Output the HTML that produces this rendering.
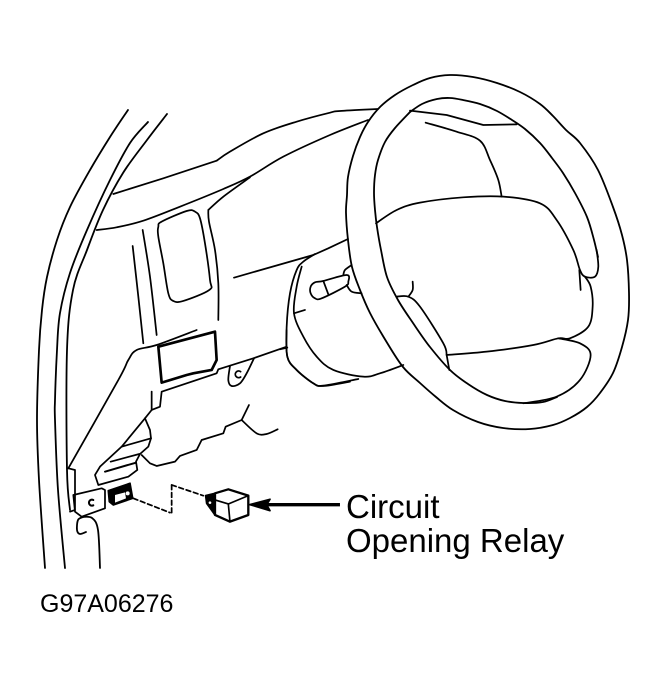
<!DOCTYPE html>
<html><head><meta charset="utf-8"><style>
html,body{margin:0;padding:0;background:#fff;width:667px;height:689px;overflow:hidden}
svg{display:block}
polyline,polygon,path{fill:none;stroke:#000;stroke-linejoin:round;stroke-linecap:round}
text{font-family:"Liberation Sans",sans-serif;fill:#000}
</style></head><body>
<svg width="667" height="689" viewBox="0 0 667 689" xmlns="http://www.w3.org/2000/svg">
<rect width="667" height="689" fill="#fff"/>

<!-- wheel outer + inner, original coordinates -->
<g stroke-width="1.8">
<polygon points="450,75 473,77 497,83 520,92 540,104 553,116 566,130 580,143 598,170 613,207 622,235 627,260 629,293 628,320 622,347 613,373 600,393 587,407 570,418 553,425 530,429 503,428 478,422 453,410 436,397 420,383 403,367 386,341 370,313 360,290 352,267 348,240 346,213 347,195 348,177 353,156 360,137 368,122 380,107 395,95 413,85 430,78"/>
<polyline points="410,112 422,104 437,99 450,98 463,100 480,104 497,111 512,120 525,129 540,143 552,158 563,173 575,193 587,217 594,240 598,257"/>
<polyline points="410,112 395,128 385,142 378,160 375,175 374,193 375,210 377,227 381,250 387,277 398,300 413,323 430,347 450,370 468,384 487,395 505,401 523,403 543,402 557,397"/>
</g>

<!-- left pillar lines -->
<g stroke-width="1.8">
<polyline points="128,110 110,137 90,170 70,207 57,240 47,277 42,310 39,350 37,420 39,480 45,568"/>
<polyline points="148,122 130,143 110,180 87,230 70,273 60,313 57,350 55,400 55,420 58,490 65,568"/>
<polyline points="167,114 147,140 123,173 103,210 87,250 73,290 67,350 67,470 70,510"/>
<polyline points="83,517 78,520 77,530 80,534 86,532"/>
<polyline points="82,517 92,518 98,530 100,568"/>
</g>

<!-- dash panel and cluster: zoom-1 coordinates -->
<g transform="translate(30 90) scale(.3333)" stroke-width="5.2">
<polyline class="k" points="250,312 400,265 560,212"/>
<polyline points="560,212 600,185 700,130 800,95 900,68 930,63 1044,57"/>
<polyline points="200,420 260,412 340,392 450,350 580,297 660,260 760,200 900,135 1014,90"/>
<polyline points="535,360 580,320 660,262"/>
<polyline points="535,360 537,395 555,480 565,580 565,690"/>
<polygon points="385,410 395,395 470,363 495,365 510,385 525,460 540,570 538,600 460,633 430,633 415,610 400,520 385,440"/>
<polyline points="338,420 360,560 380,735"/>
<polyline points="308,468 325,620 340,760"/>
<polyline class="k" points="612,563 850,495 895,475 954,447"/>
</g>

<!-- column, stalk, hub: zoom-3 coordinates -->
<g transform="translate(280 80) scale(.3333)" stroke-width="5.2">
<polyline points="105,522 70,545 50,570 30,640 20,740 22,830 50,870 100,910 130,917 235,897"/>
<polyline points="65,560 50,620 42,700 70,770 110,830 160,870 250,890 300,880 370,855"/>
<polyline class="k" points="42,700 75,690"/>
<polyline class="k" points="0,808 22,803"/>
<polygon points="130,603 200,585 205,605 195,620 125,655 105,655 92,640 92,620 105,607"/>
<polyline class="k" points="130,603 145,643"/>
<polyline points="215,555 195,570 190,585"/>
<polyline points="200,615 215,635 245,640"/>
<polyline points="288,430 350,390 420,368 550,352 670,350 780,370 830,420 880,510 900,570 915,590 945,590 955,560 950,510"/>
<polyline class="k" points="390,92 500,105 610,135 710,133"/>
<polyline points="437,128 530,155 600,182 630,240 655,300 665,350"/>
<polyline class="k" points="898,570 902,630"/>
<polyline points="915,590 932,620 938,680 925,740 870,775 835,775 760,795 620,815 500,825"/>
<polyline points="500,825 490,790 420,680 385,650 350,650"/>
<polyline points="385,650 398,630 398,605"/>
<polyline class="k" points="500,825 508,870"/>
<polyline points="835,775 900,790 932,825 900,900 830,950 730,970"/>
</g>

<!-- lower details: zoom-2 coordinates -->
<g transform="translate(50 330) scale(.3333)" stroke-width="5.2">
<polyline points="440,0 320,45 260,60 235,90 205,150 55,415"/>
<polygon class="k" points="325,50 495,5 500,90 485,120 430,130 410,135 335,158" stroke-width="8"/>
<polyline class="k" points="710,50 610,85 505,118 500,130 335,185 330,230 305,240 285,265"/>
<polyline class="k" points="305,185 305,240"/>
<polyline points="540,108 535,150 545,168 570,160 590,130 612,85"/>
<path d="M572 125a10 10 0 1 0 0 16"/>
<polyline points="710,0 712,80 740,120 790,160 820,168 900,155"/>
<polyline class="k" points="597,225 575,270 527,290 520,310 455,330 440,360 390,378 375,395 320,408 300,400 275,375"/>
<polyline points="575,270 620,310 650,312 683,298"/>
<polyline class="k" points="285,265 300,300 303,325 295,350 270,372 258,395 262,420 235,440 145,465 135,435 150,410 215,350 285,265"/>
<polyline class="k" points="215,350 303,325"/>
<polyline class="k" points="182,395 268,372"/>
<polyline class="k" points="165,425 258,398" stroke-width="6"/>
<polyline class="k" points="55,415 75,420 75,540 60,545"/>
<polygon class="k" points="70,495 155,475 165,480 165,535 95,560 75,545"/>
<path d="M130 510a9 9 0 1 0 0 16" stroke-width="6"/>
<polygon class="k" points="175,482 240,460 248,505 190,525 178,515" style="fill:#000"/>
<polygon class="k" points="195,495 225,487 228,505 195,518" style="fill:#fff;stroke:none"/>
<circle cx="233" cy="490" r="6" fill="#fff"/>
<polyline class="k" points="250,505 360,548" stroke-dasharray="14 9"/>
<polyline class="k" points="365,548 365,465" stroke-dasharray="14 9"/>
<polyline class="k" points="365,465 460,497" stroke-dasharray="14 9"/>
<polygon class="k" points="495,490 535,478 595,497 595,555 540,575 495,555" stroke-width="7"/>
<polygon class="k" points="467,497 495,490 495,555 470,520" style="fill:#000"/>
<circle cx="480" cy="518" r="4" fill="#fff"/>
<polyline class="k" points="495,510 535,522 595,497" stroke-width="5"/>
<polyline class="k" points="535,522 540,575" stroke-width="5"/>
<polyline class="k" points="870,524 650,524" stroke-width="10" style="stroke-linecap:butt"/>
<polygon class="k" points="600,524 660,508 650,524 660,542" style="fill:#000"/>
</g>

<text x="346" y="518" font-size="33">Circuit</text>
<text x="346" y="552" font-size="33">Opening Relay</text>
<text x="40" y="612" font-size="25">G97A06276</text>
</svg>
<script>
document.querySelectorAll('polyline:not(.k),polygon:not(.k)').forEach(function(e){
  var n=e.getAttribute('points').trim().split(/\s+/).map(function(s){return s.split(',').map(Number)});
  var closed=e.tagName.toLowerCase()==='polygon',L=n.length;
  function g(i){return closed?n[(i+L)%L]:n[Math.max(0,Math.min(L-1,i))]}
  var d='M'+n[0][0]+' '+n[0][1],c=closed?L:L-1;
  for(var i=0;i<c;i++){var a=g(i-1),b=g(i),f=g(i+1),h=g(i+2);
    d+='C'+(b[0]+(f[0]-a[0])/6).toFixed(1)+' '+(b[1]+(f[1]-a[1])/6).toFixed(1)+' '+(f[0]-(h[0]-b[0])/6).toFixed(1)+' '+(f[1]-(h[1]-b[1])/6).toFixed(1)+' '+f[0]+' '+f[1]}
  if(closed)d+='Z';
  var p=document.createElementNS('http://www.w3.org/2000/svg','path');
  p.setAttribute('d',d);
  if(e.getAttribute('stroke-width'))p.setAttribute('stroke-width',e.getAttribute('stroke-width'));
  e.parentNode.replaceChild(p,e);
});
</script>
</body></html>
